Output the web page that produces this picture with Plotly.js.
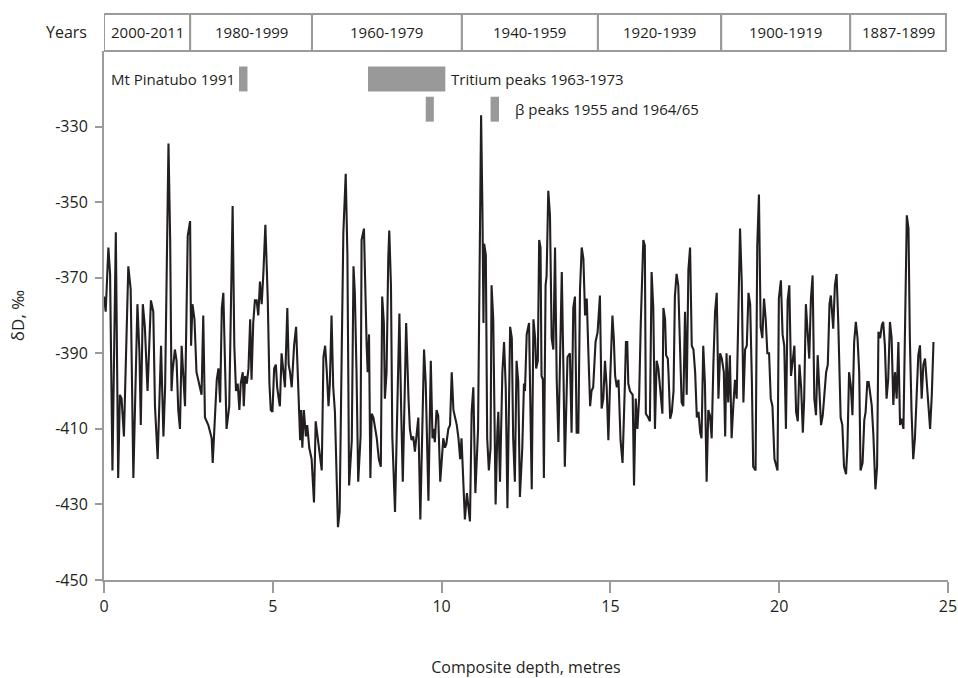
<!DOCTYPE html>
<html>
<head>
<meta charset="utf-8">
<script src="https://cdn.plot.ly/plotly-3.0.1.min.js"></script>
<style>html,body{margin:0;padding:0;background:#fff;}#chart{width:958px;height:678px;}</style>
</head>
<body>
<div id="chart"></div>
<script>
// Composite depth (m) and deltaD (per mil)
const depth = [
0,0.05,0.13,0.18,0.25,0.35,0.42,0.47,0.52,0.59,0.72,0.79,0.87,0.99,1.05,1.09,1.15,1.21,1.29,1.39,1.46,1.51,1.59,1.69,1.76,1.81,1.91,1.96,2.0,2.03,2.1,2.15,2.2,2.25,2.3,2.35,2.4,2.48,2.55,2.58,2.62,2.68,2.74,2.84,2.89,2.94,2.99,
3.09,3.19,3.22,3.29,3.34,3.39,3.44,3.49,3.535,3.58,3.63,3.71,3.76,3.81,3.86,3.91,3.96,4.01,4.05,4.11,4.14,4.18,4.23,4.28,4.33,4.37,4.42,4.47,4.52,4.57,4.62,4.67,4.72,4.75,4.78,4.82,4.85,4.9,4.94,4.99,5.04,5.09,5.13,5.19,5.21,5.26,5.31,5.36,5.43,5.47,5.51,5.56,5.63,5.69,5.73,5.78,5.81,5.84,5.875,5.92,5.98,6.02,6.08,
6.15,6.22,6.27,6.32,6.4,6.45,6.5,6.55,6.6,6.65,6.69,6.74,6.79,6.84,6.93,6.98,7.04,7.09,7.16,7.21,7.26,7.34,7.39,7.43,7.48,7.53,7.6,7.63,7.7,7.73,7.78,7.81,7.85,7.89,7.93,7.98,8.03,8.08,8.14,8.2,8.24,8.29,8.32,8.37,8.42,8.45,8.5,8.54,8.62,8.67,8.75,8.8,8.85,8.92,8.95,9.02,9.06,
9.11,9.16,9.21,9.26,9.31,9.37,9.43,9.48,9.53,9.57,9.61,9.68,9.73,9.76,9.8,9.85,9.9,9.96,10.05,10.1,10.14,10.2,10.25,10.3,10.35,10.4,10.45,10.5,10.55,10.59,10.65,10.69,10.75,10.84,10.89,10.94,11.0,11.08,11.11,11.14,11.17,11.21,11.24,11.26,11.31,11.35,11.4,11.45,11.48,11.53,11.6,11.65,11.68,11.73,11.8,11.85,11.9,11.95,12.03,12.08,12.12,12.17,
12.22,12.27,12.32,12.39,12.44,12.47,12.52,12.59,12.64,12.67,12.72,12.77,12.8,12.85,12.89,12.93,12.96,13.0,13.03,13.08,13.11,13.16,13.21,13.26,13.31,13.36,13.41,13.46,13.51,13.56,13.61,13.65,13.73,13.8,13.85,13.9,13.95,14.0,14.05,14.1,14.15,14.2,14.25,14.3,14.35,14.4,14.44,14.49,14.56,14.62,14.69,14.74,14.79,14.84,14.89,14.94,15.0,15.06,15.1,15.14,15.19,15.24,
15.3,15.36,15.43,15.46,15.5,15.53,15.58,15.66,15.7,15.75,15.8,15.85,15.9,15.93,15.975,16.02,16.05,16.12,16.17,16.22,16.27,16.32,16.37,16.42,16.45,16.49,16.54,16.57,16.62,16.65,16.7,16.72,16.77,16.82,16.87,16.91,16.96,17.01,17.06,17.11,17.16,17.21,17.26,17.31,17.36,17.41,17.46,17.51,17.56,17.61,17.66,17.7,17.75,17.8,17.85,17.9,17.95,18.0,18.05,18.1,18.15,18.2,18.25,18.3,
18.36,18.4,18.44,18.49,18.54,18.59,18.64,18.69,18.74,18.79,18.84,18.89,18.94,18.99,19.04,19.09,19.14,19.19,19.23,19.3,19.35,19.4,19.45,19.5,19.55,19.6,19.65,19.7,19.75,19.8,19.86,19.95,19.99,20.05,20.1,20.15,20.2,20.25,20.3,20.35,20.4,20.45,20.5,20.55,20.6,20.65,20.7,20.74,20.79,20.84,20.89,20.94,20.99,21.04,21.09,21.14,21.19,21.24,21.29,21.34,21.39,21.44,21.49,
21.53,21.57,21.6,21.65,21.7,21.75,21.78,21.82,21.87,21.92,21.98,22.02,22.07,22.12,22.17,22.22,22.27,22.32,22.37,22.41,22.47,22.52,22.56,22.61,22.65,22.69,22.74,22.79,22.85,22.9,22.94,22.99,23.04,23.08,23.13,23.18,23.23,23.28,23.33,23.38,23.43,23.48,23.53,23.58,23.63,23.68,23.73,23.78,23.83,23.87,23.92,23.97,24.02,24.07,24.12,24.17,24.22,24.27,24.32,24.37,24.42,24.47,24.52,24.57
];
const deltaD = [
-375,-379,-362,-369,-421,-358,-423,-401,-402,-412,-367,-373,-423,-377,-390,-409,-377,-383,-400,-376,-379,-404,-418,-388,-412,-399,-334.5,-360,-400,-395,-389,-392,-405,-410,-388,-397,-404,-359,-355,-388,-377,-381,-395,-399,-401,-380,-407,
-409,-412.5,-419,-406,-397,-394,-403,-378,-374,-391,-410,-404,-376,-351,-388,-400,-398,-405,-398,-395,-404,-396,-398,-394,-381,-397,-382,-376,-376,-380,-371,-377,-369,-361,-356,-367,-375.5,-398,-405,-405.5,-394,-393,-399,-403,-404,-390,-394,-399,-378,-393,-395,-399,-388,-383,-393,-404,-413,-405,-415,-405,-412,-409,-415,
-418,-429.5,-408,-412,-418,-421,-391,-388,-395,-404,-398,-380,-399,-405.5,-436,-432,-390.5,-358,-342.5,-364,-425,-413,-367,-374,-395,-424,-412,-360,-357,-370,-388,-395,-385,-423,-406,-407,-410,-412.5,-418,-420,-375,-382,-402,-395,-365,-357.5,-372,-412,-432,-412,-379.5,-404,-424,-395,-382,-402,-410,
-413,-412,-416,-411,-407,-434,-413,-389,-398,-412,-429,-392,-412.5,-410,-413.5,-405,-406.5,-424,-412.5,-415,-414,-410,-409,-395,-405,-407,-409,-412.5,-418,-412.5,-425,-434,-427,-434.5,-405.5,-399,-427,-410,-382,-342,-327,-352.6,-382,-361,-364,-412.5,-421,-415,-372,-381,-430,-411,-405.5,-424,-395,-387,-399,-431,-383,-386,-412.5,-424,
-392,-397.5,-428,-415,-398,-400,-385,-382,-404,-426,-381,-386,-394,-392,-360,-362,-396,-397,-423,-372,-369.5,-347,-353.5,-386,-389,-362,-397,-413.5,-391,-368.5,-395,-420,-391,-390,-411,-378,-375,-411,-411,-373,-362,-365,-380,-375.5,-390.5,-404,-400,-399,-387,-384.5,-374.7,-404.6,-402,-392,-399,-413,-395,-380,-386,-396,-399,-397,
-413,-419,-398,-387,-387,-398,-400,-401,-425,-402,-410,-402,-382,-372.5,-360,-361.5,-406,-407,-408,-368.5,-378,-410,-392,-394,-397.6,-401,-406,-378,-381,-390.5,-391.4,-395,-407.3,-405.5,-400,-375,-369,-372,-386,-403,-404,-379,-401,-368,-362,-388,-389,-395,-407,-405.5,-411,-412.5,-388,-398,-424,-405,-406.5,-412.5,-393,-379,-374,-402,-390,-391.4,
-395,-412,-390,-403,-390.5,-412.5,-404,-397,-402,-381,-357,-371,-403,-389,-388,-374,-377,-397,-420,-421,-361.5,-348,-383,-386,-375.5,-381,-390,-390,-402,-404,-418,-421,-375.5,-370.7,-385,-388,-410,-376,-372,-396,-391.4,-388,-405.5,-408,-393,-399,-411,-402,-377,-386,-391.4,-375.5,-369.4,-402,-406.4,-390.5,-402,-409,-406.4,-399.3,-395,-393,-377,
-374.7,-381.7,-383.5,-372,-369,-382,-396.7,-407,-409,-420,-422,-415,-395,-398.5,-406.4,-387,-381.7,-386,-395,-421,-419,-407.7,-405.5,-397.6,-397.6,-401,-403.7,-411.7,-426,-420,-384.3,-386,-382.6,-381.7,-387.9,-402,-396.7,-381.7,-386,-403.7,-395,-402,-387,-409,-407.3,-410,-381.7,-353.5,-357,-386,-405.5,-418,-412.5,-399.3,-390.5,-387.9,-402,-393,-391.4,-397.6,-403.7,-410,-401,-387
];

// Axis ticks
const xTickVals = [0, 5, 10, 15, 20, 25];
const yTickVals = [-450, -430, -410, -390, -370, -350, -330];
const yTickText = ["-450", "-430", "-410", "-390", "-370", "-350", "-330"];

// Year bands along depth
const yearBounds = [0, 2.55, 6.16, 10.6, 14.63, 18.28, 22.1, 24.94];
const yearLabels = ["2000-2011", "1980-1999", "1960-1979", "1940-1959", "1920-1939", "1900-1919", "1887-1899"];

// Marker bars (depth ranges) and their labels
const markerNames = ["Mt Pinatubo 1991", "Tritium peaks 1963-1973", "β peaks 1955 and 1964/65", ""];
const markerX0 = [4.0, 7.82, 9.53, 11.45];
const markerX1 = [4.25, 10.11, 9.77, 11.70];
const markerY0 = [-320.7, -320.7, -328.7, -328.7];
const markerY1 = [-314.1, -314.1, -322.1, -322.1];

const ink = '#231f20';
const grey = '#9b9b9b';
const fontFam = 'Open Sans, Noto Sans, sans-serif';

const shapes = [];
const annotations = [];

// header cells
for (let i = 0; i < yearLabels.length; i++) {
  shapes.push({type:'rect', xref:'x', yref:'paper', x0:yearBounds[i], x1:yearBounds[i+1], y0:1, y1:1.07,
    line:{color:grey, width:2}, fillcolor:'rgba(0,0,0,0)', layer:'above'});
  annotations.push({xref:'x', yref:'paper', x:(yearBounds[i]+yearBounds[i+1])/2, y:1.035, text:yearLabels[i],
    showarrow:false, xanchor:'center', yanchor:'middle', font:{family:fontFam, size:15, color:ink}});
}
annotations.push({xref:'paper', yref:'paper', x:-0.018, y:1.035, text:'Years', showarrow:false,
  xanchor:'right', yanchor:'middle', font:{family:fontFam, size:16, color:ink}});

// marker bars
for (let i = 0; i < markerX0.length; i++) {
  shapes.push({type:'rect', xref:'x', yref:'y', x0:markerX0[i], x1:markerX1[i], y0:markerY0[i], y1:markerY1[i],
    line:{width:0}, fillcolor:'#999999', layer:'above'});
}
annotations.push({xref:'x', yref:'y', x:markerX0[0]-0.05, y:(markerY0[0]+markerY1[0])/2, text:markerNames[0], showarrow:false,
  xanchor:'right', yanchor:'middle', font:{family:fontFam, size:15, color:ink}});
annotations.push({xref:'x', yref:'y', x:markerX1[1]+0.1, y:(markerY0[1]+markerY1[1])/2, text:markerNames[1], showarrow:false,
  xanchor:'left', yanchor:'middle', font:{family:fontFam, size:15, color:ink}});
annotations.push({xref:'x', yref:'y', x:markerX1[3]+0.4, y:(markerY0[3]+markerY1[3])/2, text:markerNames[2], showarrow:false,
  xanchor:'left', yanchor:'middle', font:{family:fontFam, size:15, color:ink}});

const trace = {x: depth, y: deltaD, type:'scatter', mode:'lines', line:{color:ink, width:2.1}, hoverinfo:'skip'};

const layout = {
  width: 958, height: 678,
  margin: {l:104, r:10, t:51, b:98},
  paper_bgcolor:'#fff', plot_bgcolor:'#fff',
  showlegend:false,
  font:{family:fontFam, color:ink, size:16},
  xaxis:{range:[0,25], tickvals:xTickVals, ticks:'outside', ticklen:11, tickwidth:2, tickcolor:grey,
    showline:true, linecolor:grey, linewidth:2, showgrid:false, zeroline:false,
    tickfont:{family:fontFam, size:16, color:ink},
    title:{text:'Composite depth, metres', font:{family:fontFam, size:16, color:ink}, standoff:46}},
  yaxis:{range:[-450,-310], tickvals:yTickVals, ticktext:yTickText, ticks:'outside', ticklen:7, tickwidth:2, tickcolor:grey,
    showline:true, linecolor:grey, linewidth:2, showgrid:false, zeroline:false, ticklabelstandoff:4,
    tickfont:{family:fontFam, size:16, color:ink},
    title:{text:'δD, ‰', font:{family:fontFam, size:17, color:ink}, standoff:26}},
  shapes: shapes,
  annotations: annotations
};

Plotly.newPlot('chart', [trace], layout, {displayModeBar:false, staticPlot:true});
</script>
</body>
</html>
